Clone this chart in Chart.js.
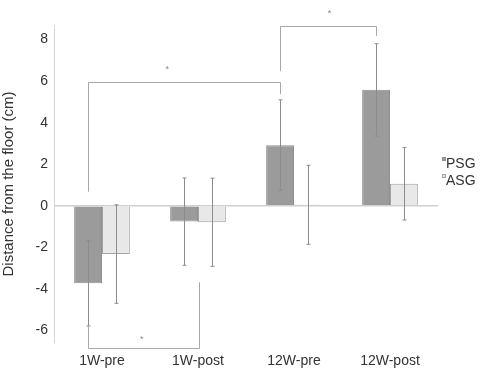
<!DOCTYPE html>
<html><head><meta charset="utf-8">
<script src="https://cdn.jsdelivr.net/npm/chart.js@4/dist/chart.umd.min.js"></script>
<style>html,body{margin:0;padding:0;background:#fff}#wrap{width:481px;height:372px}</style>
</head><body><div id="wrap"><canvas id="c" width="481" height="372"></canvas></div>
<script>
const categories = ['1W-pre', '1W-post', '12W-pre', '12W-post'];
const psgValues = [-3.73, -0.76, 2.92, 5.58];
const asgValues = [-2.32, -0.79, 0.05, 1.06];
const psgErr = [2.05, 2.1, 2.18, 2.22];
const asgErr = [2.37, 2.12, 1.9, 1.74];
const yTicks = [-6, -4, -2, 0, 2, 4, 6, 8];
const brackets = [
  {from: 0, to: 2, y: 5.95, yl: 0.68, yr: 5.37, starY: 6.65, starX: 0.41},
  {from: 2, to: 3, y: 8.66, yl: 6.48, yr: 8.18, starY: 9.35, starX: 0.51},
  {from: 0, to: 1, y: -6.82, yl: -5.8, yr: -3.68, starY: -6.32, starX: 0.48}
];

const errPlugin = {
  id: 'err',
  afterDatasetsDraw(chart) {
    const ctx = chart.ctx, y = chart.scales.y;
    ctx.save();
    ctx.strokeStyle = '#8c8c8c';
    ctx.lineWidth = 1;
    [psgErr, asgErr].forEach((errs, di) => {
      const meta = chart.getDatasetMeta(di);
      const vals = chart.data.datasets[di].data;
      meta.data.forEach((bar, i) => {
        const x = Math.round(bar.x) + 0.5;
        const t = y.getPixelForValue(vals[i] + errs[i]);
        const b = y.getPixelForValue(vals[i] - errs[i]);
        ctx.beginPath();
        ctx.moveTo(x, t); ctx.lineTo(x, b);
        ctx.moveTo(x - 2, t); ctx.lineTo(x + 2, t);
        ctx.moveTo(x - 2, b); ctx.lineTo(x + 2, b);
        ctx.stroke();
      });
    });
    const meta = chart.getDatasetMeta(0);
    ctx.strokeStyle = '#a8a8a8';
    brackets.forEach(br => {
      const x1 = Math.round(meta.data[br.from].x) + 0.5;
      const x2 = Math.round(meta.data[br.to].x) + 0.5 + (br.to === 1 && br.from === 0 ? 15 : 0);
      const yy = Math.round(y.getPixelForValue(br.y)) + 0.5;
      ctx.beginPath();
      ctx.moveTo(x1, y.getPixelForValue(br.yl));
      ctx.lineTo(x1, yy);
      ctx.lineTo(x2, yy);
      ctx.lineTo(x2, y.getPixelForValue(br.yr));
      ctx.stroke();
      ctx.fillStyle = '#888';
      ctx.font = '9px "Liberation Sans", Arial, sans-serif';
      ctx.textAlign = 'center';
      ctx.textBaseline = 'middle';
      const sx = x1 + (x2 - x1) * br.starX;
      ctx.fillText('*', sx, y.getPixelForValue(br.starY) + 2);
    });
    ctx.font = '14px "Liberation Sans", Arial, sans-serif';
    ctx.textAlign = 'left';
    ctx.textBaseline = 'middle';
    chart.data.datasets.forEach((ds, i) => {
      const ly = 164 + i * 17;
      ctx.fillStyle = ds.backgroundColor;
      ctx.strokeStyle = ds.borderColor;
      ctx.fillRect(442.5, ly - 6.5, 3, 3);
      ctx.strokeRect(442.5, ly - 6.5, 3, 3);
      ctx.fillStyle = '#333';
      ctx.fillText(ds.label, 446, ly);
    });
    ctx.restore();
  }
};

new Chart(document.getElementById('c'), {
  type: 'bar',
  data: {
    labels: categories,
    datasets: [
      {label: 'PSG', data: psgValues, backgroundColor: '#9b9b9b', borderColor: '#8e8e8e', borderWidth: 1},
      {label: 'ASG', data: asgValues, backgroundColor: '#e8e8e8', borderColor: '#a3a3a3', borderWidth: 1}
    ]
  },
  options: {
    responsive: false,
    animation: false,
    layout: {padding: {left: 0, right: 43, top: 25, bottom: 0}},
    plugins: {legend: {display: false}, tooltip: {enabled: false}},
    datasets: {bar: {categoryPercentage: 0.58, barPercentage: 1.0}},
    scales: {
      x: {
        grid: {display: false},
        border: {display: false},
        ticks: {color: '#333', font: {size: 14, family: '"Liberation Sans", Arial, sans-serif'}, padding: 2, maxRotation: 0},
        afterFit(s) { s.height = 29; }
      },
      y: {
        min: -6.6, max: 8.7,
        afterBuildTicks(s) { s.ticks = yTicks.map(v => ({value: v})); },
        afterFit(s) { s.width = 54; },
        grid: {
          drawTicks: false,
          color: c => (c.tick && c.tick.value === 0) ? '#d0d0d0' : 'rgba(0,0,0,0)',
          lineWidth: 1.5
        },
        border: {display: true, color: '#d6d6d6'},
        ticks: {color: '#333', font: {size: 14, family: '"Liberation Sans", Arial, sans-serif'}, padding: 6},
        title: {display: true, text: 'Distance from the floor (cm)', color: '#333',
          font: {size: 15, family: '"Liberation Sans", Arial, sans-serif'}, padding: {top: 0, bottom: 3}}
      }
    }
  },
  plugins: [errPlugin]
});
</script>
</body></html>
